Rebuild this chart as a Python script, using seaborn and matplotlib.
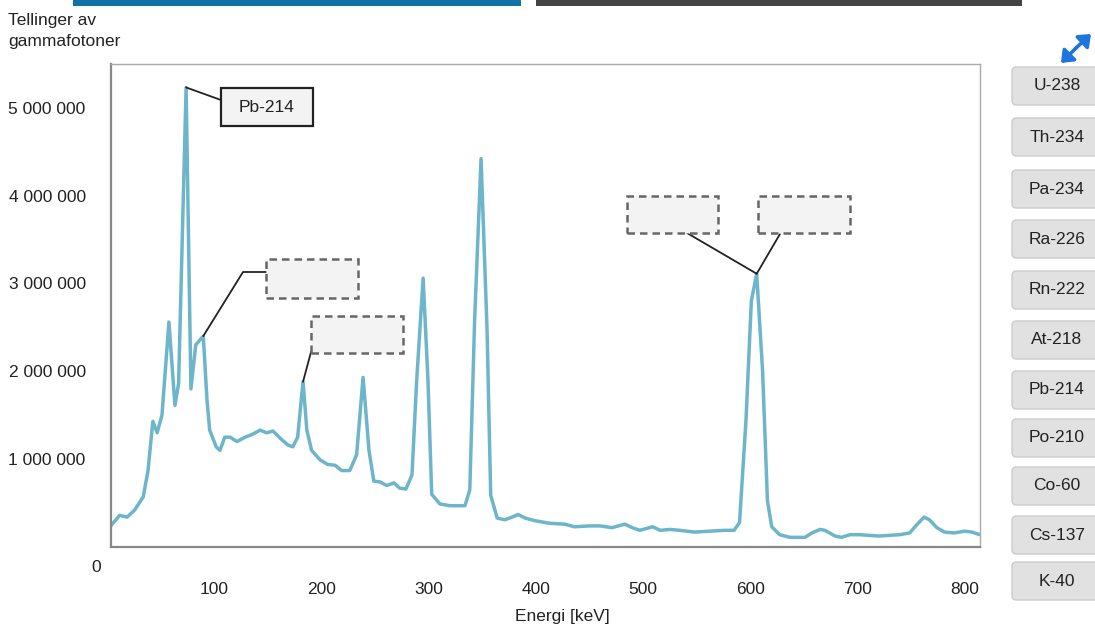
import numpy as np
import pandas as pd
import seaborn as sns
import matplotlib
matplotlib.use("Agg")
import matplotlib.pyplot as plt
from matplotlib.patches import Rectangle, FancyBboxPatch, FancyArrowPatch
from matplotlib.lines import Line2D
from matplotlib.ticker import FuncFormatter

# ---------------- data ----------------
energy_kev = [3, 12, 19, 26, 34, 38.5, 43, 47, 51.5, 58, 63.6, 67, 74, 78.5, 83, 90, 93.5, 96,
              102, 105.6, 110, 115, 121.5, 129, 135.5, 143, 149, 155, 161.5, 169, 173.5, 178,
              183, 186.6, 191, 199, 206, 213, 219, 226.6, 233, 239, 244.5, 249, 255, 261, 268,
              273, 279, 284.6, 289, 295, 299.5, 303, 310.6, 320, 334, 338.5, 343, 349, 354.6,
              358, 364, 371, 378, 383.5, 390, 399, 413, 427, 436, 450, 460, 471, 483, 490, 497,
              509, 516, 525, 534, 548, 562, 576, 585, 590, 596, 601, 606, 611.5, 616, 620, 627.5,
              637, 651, 657.5, 665, 669.5, 679, 685, 693, 702, 720, 739, 748.6, 755, 762, 767,
              774, 781, 790, 800, 806.6, 814]
counts = [0.23, 0.36, 0.34, 0.42, 0.57, 0.87, 1.43, 1.30, 1.50, 2.56, 1.61, 1.86, 5.23, 1.80,
          2.30, 2.40, 1.67, 1.33, 1.14, 1.10, 1.25, 1.25, 1.20, 1.25, 1.28, 1.33, 1.30, 1.32,
          1.24, 1.16, 1.14, 1.25, 1.88, 1.33, 1.10, 0.99, 0.94, 0.93, 0.87, 0.87, 1.05, 1.93,
          1.10, 0.75, 0.74, 0.70, 0.73, 0.67, 0.66, 0.82, 1.90, 3.06, 1.90, 0.60, 0.49, 0.47,
          0.47, 0.65, 2.58, 4.42, 2.47, 0.59, 0.33, 0.31, 0.34, 0.37, 0.33, 0.30, 0.27, 0.26,
          0.23, 0.24, 0.24, 0.22, 0.26, 0.22, 0.19, 0.23, 0.19, 0.20, 0.19, 0.17, 0.18, 0.19,
          0.19, 0.28, 1.44, 2.80, 3.11, 2.00, 0.53, 0.23, 0.14, 0.11, 0.11, 0.16, 0.20, 0.19,
          0.125, 0.11, 0.14, 0.14, 0.125, 0.14, 0.16, 0.25, 0.34, 0.31, 0.22, 0.17, 0.16, 0.18,
          0.17, 0.14]
counts = [c * 1e6 for c in counts]

x_ticks = [100, 200, 300, 400, 500, 600, 700, 800]
y_ticks = [0, 1e6, 2e6, 3e6, 4e6, 5e6]
nuclides = ["U-238", "Th-234", "Pa-234", "Ra-226", "Rn-222", "At-218",
            "Pb-214", "Po-210", "Co-60", "Cs-137", "K-40"]
labelled_peak = "Pb-214"

# ---------------- styling ----------------
sns.set_style("white")
plt.rcParams['font.family'] = ['Liberation Sans', 'DejaVu Sans']
FS = 12.5

W, H = 1095, 628
fig = plt.figure(figsize=(W / 100, H / 100), dpi=100)
fig.patch.set_facecolor("white")


def fx(x):
    return x / W


def fy(y):
    return 1 - y / H


# axes placement (pixels from top-left)
L, R, T, B = 110.7, 980, 64, 547
ax = fig.add_axes([fx(L), fy(B), (R - L) / W, (B - T) / H])

df = pd.DataFrame({"Energi": energy_kev, "Tellinger": counts})
sns.lineplot(data=df, x="Energi", y="Tellinger", ax=ax, color="#6db5ca", lw=2.5,
             solid_joinstyle="round", solid_capstyle="round")

ax.set_xlim(3.7, 814.2)
ax.set_ylim(0, 5.497e6)
ax.set_xticks(x_ticks)
ax.set_yticks(y_ticks)
ax.set_xticklabels([str(t) for t in x_ticks])
ax.yaxis.set_major_formatter(FuncFormatter(
    lambda v, p: "" if v == 0 else f"{int(v):,}".replace(",", " ")))
ax.tick_params(axis="x", direction="out", length=7, width=1.3, color="#888888",
               pad=18, labelsize=FS, labelcolor="#222222")
ax.tick_params(axis="y", direction="out", length=10, width=1.3, color="#888888",
               pad=8, labelsize=FS, labelcolor="#222222")
ax.set_xlabel("")
ax.set_ylabel("")
for s in ["left", "bottom"]:
    ax.spines[s].set_color("#888888")
    ax.spines[s].set_linewidth(1.6)
for s in ["top", "right"]:
    ax.spines[s].set_color("#aaaaaa")
    ax.spines[s].set_linewidth(1.0)

# texts
fig.text(fx(8), fy(31), "Tellinger av\ngammafotoner", ha="left", va="center",
         fontsize=FS, color="#222222", linespacing=1.55)
fig.text(fx(562), fy(617), "Energi [keV]", ha="center", va="center",
         fontsize=FS, color="#222222")
fig.text(fx(96), fy(568), "0", ha="center", va="center", fontsize=FS, color="#222222")

# top bars
fig.add_artist(Rectangle((fx(73), fy(6)), (521 - 73) / W, 6 / H,
                         transform=fig.transFigure, color="#0f73a3", lw=0))
fig.add_artist(Rectangle((fx(536), fy(6)), (1022 - 536) / W, 6 / H,
                         transform=fig.transFigure, color="#444444", lw=0))

fig.canvas.draw()


def data_px(xv, yv):
    dx, dy = ax.transData.transform((xv, yv))
    return dx / W, dy / H


def peak_at(e):
    i = energy_kev.index(e)
    return data_px(energy_kev[i], counts[i])


def box(x0, y0, x1, y1, dashed, text=None):
    r = Rectangle((fx(x0), fy(y1)), (x1 - x0) / W, (y1 - y0) / H,
                  transform=fig.transFigure, facecolor="#f3f3f3",
                  edgecolor="#666666" if dashed else "#222222",
                  lw=1.8 if dashed else 1.6,
                  linestyle=(0, (3, 2)) if dashed else "-", zorder=5)
    fig.add_artist(r)
    if text:
        fig.text(fx((x0 + x1) / 2), fy((y0 + y1) / 2), text, ha="center",
                 va="center", fontsize=FS, color="#222222", zorder=6)


def line(pts):
    xs = [p[0] for p in pts]
    ys = [p[1] for p in pts]
    fig.add_artist(Line2D(xs, ys, transform=fig.transFigure, color="#222222",
                          lw=1.3, zorder=4))


# Pb-214 annotation
pk = peak_at(74)
line([pk, (fx(221), fy(100))])
box(221, 88, 313, 126, False, labelled_peak)

# dashed empty boxes
pk = peak_at(90)
line([pk, (fx(243), fy(272)), (fx(266), fy(272))])
box(266, 259, 358, 298, True)

pk = peak_at(183)
line([pk, (fx(311), fy(352))])
box(311, 316, 403, 353, True)

pk = peak_at(606)
line([pk, (fx(687), fy(233))])
line([pk, (fx(780), fy(234))])
box(627, 196, 718, 233, True)
box(758, 196, 850, 233, True)

# right-hand buttons
tops = [67, 118, 170, 220, 271, 321, 371, 419, 467, 516, 562]
for name, t in zip(nuclides, tops):
    b = FancyBboxPatch((fx(1012), fy(t + 38)), (1110 - 1012) / W, 38 / H,
                       boxstyle="round,pad=0,rounding_size=0.004",
                       transform=fig.transFigure, facecolor="#e1e1e1",
                       edgecolor="#cccccc", lw=1.0, mutation_aspect=W / H)
    fig.add_artist(b)
    fig.text(fx(1057), fy(t + 19), name, ha="center", va="center",
             fontsize=FS, color="#222222")

# expand icon
c = (fx(1076), fy(48))
for end in [(fx(1091), fy(34)), (fx(1061), fy(63))]:
    fig.add_artist(FancyArrowPatch(c, end, transform=fig.transFigure,
                                   arrowstyle="-|>,head_length=5,head_width=4",
                                   color="#1f74e0", lw=2.6, mutation_scale=1.3,
                                   shrinkA=0, shrinkB=0))

fig.savefig("out.png", dpi=100)
